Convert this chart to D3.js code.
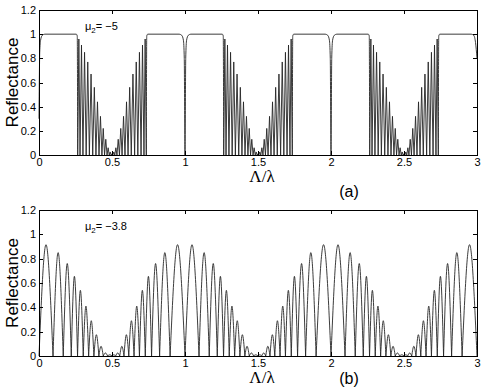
<!DOCTYPE html>
<html>
<head>
<meta charset="utf-8">
<style>
html, body { margin: 0; padding: 0; background: #fff; }
svg { display: block; }
.axis text { font: 11px "Liberation Sans", Arial, sans-serif; fill: #000; }
.axis path, .axis line { fill: none; stroke: #000; shape-rendering: crispEdges; }
.curve { fill: none; stroke: #262626; stroke-width: 0.9px; }
.label { font-family: "Liberation Sans", Arial, sans-serif; fill: #000; }
</style>
</head>
<body>
<svg width="485" height="392"></svg>
<script src="https://d3js.org/d3.v7.min.js"></script>
<script>
var xTicks = [0, 0.5, 1, 1.5, 2, 2.5, 3];
var yTicks = [0, 0.2, 0.4, 0.6, 0.8, 1, 1.2];
var yTickLabels = ["0", "0.2", "0.4", "0.6", "0.8", "1", "1.2"];

// (a) mu2 = -5 : flat bands at R = 1, [x, R] points
var bandsA = [
  [[0, 0.3], [0.005, 0.85], [0.011, 0.95], [0.022, 0.99], [0.04, 1], [0.255, 1], [0.262, 0.985], [0.265, 0]],
  [[0.735, 0], [0.738, 0.985], [0.745, 1], [0.96, 1], [0.978, 0.99], [0.989, 0.95], [0.995, 0.8], [1, 0],
   [1.005, 0.8], [1.011, 0.95], [1.022, 0.99], [1.04, 1], [1.255, 1], [1.262, 0.985], [1.265, 0]],
  [[1.735, 0], [1.738, 0.985], [1.745, 1], [1.96, 1], [1.978, 0.99], [1.989, 0.95], [1.995, 0.8], [2, 0],
   [2.005, 0.8], [2.011, 0.95], [2.022, 0.99], [2.04, 1], [2.255, 1], [2.262, 0.985], [2.265, 0]],
  [[2.735, 0], [2.738, 0.985], [2.745, 1], [2.96, 1], [2.978, 0.99], [2.99, 0.93], [3, 0.8]]
];

// (a) zeros of the fringes inside each gap, and the height of each fringe
var zerosA = [
  [0.265, 0.281, 0.301, 0.323, 0.345, 0.368, 0.390, 0.411, 0.431, 0.449, 0.466, 0.481, 0.494,
   0.506, 0.519, 0.534, 0.551, 0.569, 0.589, 0.610, 0.632, 0.655, 0.677, 0.699, 0.719, 0.735],
  [1.265, 1.281, 1.301, 1.323, 1.345, 1.368, 1.390, 1.411, 1.431, 1.449, 1.466, 1.481, 1.494,
   1.506, 1.519, 1.534, 1.551, 1.569, 1.589, 1.610, 1.632, 1.655, 1.677, 1.699, 1.719, 1.735],
  [2.265, 2.281, 2.301, 2.323, 2.345, 2.368, 2.390, 2.411, 2.431, 2.449, 2.466, 2.481, 2.494,
   2.506, 2.519, 2.534, 2.551, 2.569, 2.589, 2.610, 2.632, 2.655, 2.677, 2.699, 2.719, 2.735]
];
var peaksA = [
  [0.96, 0.91, 0.85, 0.77, 0.67, 0.56, 0.44, 0.32, 0.22, 0.13, 0.06, 0.025, 0.01,
   0.025, 0.06, 0.13, 0.22, 0.32, 0.44, 0.56, 0.67, 0.77, 0.85, 0.91, 0.96],
  [0.96, 0.91, 0.85, 0.77, 0.67, 0.56, 0.44, 0.32, 0.22, 0.13, 0.06, 0.025, 0.01,
   0.025, 0.06, 0.13, 0.22, 0.32, 0.44, 0.56, 0.67, 0.77, 0.85, 0.91, 0.96],
  [0.96, 0.91, 0.85, 0.77, 0.67, 0.56, 0.44, 0.32, 0.22, 0.13, 0.06, 0.025, 0.01,
   0.025, 0.06, 0.13, 0.22, 0.32, 0.44, 0.56, 0.67, 0.77, 0.85, 0.91, 0.96]
];

// (b) mu2 = -3.8 : zeros of the reflectance and fringe heights
var zerosB = [
  0, 0.096, 0.166, 0.221, 0.264, 0.303, 0.34, 0.376, 0.41, 0.44, 0.47,
  0.5, 0.525, 0.553, 0.582, 0.615, 0.651, 0.688, 0.728, 0.771, 0.826, 0.898,
  1, 1.096, 1.166, 1.221, 1.264, 1.303, 1.34, 1.376, 1.41, 1.44, 1.47,
  1.5, 1.525, 1.553, 1.582, 1.615, 1.651, 1.688, 1.728, 1.771, 1.826, 1.898,
  2, 2.096, 2.166, 2.221, 2.264, 2.303, 2.34, 2.376, 2.41, 2.44, 2.47,
  2.5, 2.525, 2.553, 2.582, 2.615, 2.651, 2.688, 2.728, 2.771, 2.826, 2.898, 3
];
var peaksB = [
  0.915, 0.85, 0.76, 0.655, 0.54, 0.41, 0.29, 0.175, 0.08, 0.025, 0.01,
  0.01, 0.025, 0.08, 0.175, 0.29, 0.41, 0.54, 0.655, 0.76, 0.85, 0.915,
  0.915, 0.85, 0.76, 0.655, 0.54, 0.41, 0.29, 0.175, 0.08, 0.025, 0.01,
  0.01, 0.025, 0.08, 0.175, 0.29, 0.41, 0.54, 0.655, 0.76, 0.85, 0.915,
  0.915, 0.85, 0.76, 0.655, 0.54, 0.41, 0.29, 0.175, 0.08, 0.025, 0.01,
  0.01, 0.025, 0.08, 0.175, 0.29, 0.41, 0.54, 0.655, 0.76, 0.85, 0.915
];

var svg = d3.select("svg");
var x = d3.scaleLinear().domain([0, 3]).range([39, 477]);

function drawPanel(top, bottom, bands, zeroGroups, peakGroups, lobeCurve, mu, tag, tagY) {
  var y = d3.scaleLinear().domain([0, 1.2]).range([bottom, top]);
  var g = svg.append("g");

  var lobeLine = d3.line().x(function(d) { return x(d[0]); })
                          .y(function(d) { return y(d[1]); })
                          .curve(lobeCurve);
  var bandLine = d3.line().x(function(d) { return x(d[0]); })
                          .y(function(d) { return y(d[1]); })
                          .curve(d3.curveMonotoneX);

  var dStr = "";
  zeroGroups.forEach(function(z, k) {
    var p = peakGroups[k];
    for (var i = 0; i < p.length; i++) {
      dStr += lobeLine([[z[i], 0], [(z[i] + z[i + 1]) / 2, p[i]], [z[i + 1], 0]]);
    }
  });
  g.append("path").attr("class", "curve").attr("d", dStr);

  g.selectAll(".band").data(bands).enter().append("path")
    .attr("class", "curve band")
    .attr("d", bandLine);

  g.append("g").attr("class", "axis")
    .attr("transform", "translate(0," + bottom + ")")
    .call(d3.axisBottom(x).tickValues(xTicks).tickFormat(d3.format("")).tickSizeInner(-4).tickSizeOuter(0).tickPadding(3));
  g.append("g").attr("class", "axis")
    .attr("transform", "translate(0," + top + ")")
    .call(d3.axisTop(x).tickValues(xTicks).tickFormat("").tickSizeInner(-4).tickSizeOuter(0));
  g.append("g").attr("class", "axis")
    .attr("transform", "translate(" + x(0) + ",0)")
    .call(d3.axisLeft(y).tickValues(yTicks).tickFormat(function(d, i) { return yTickLabels[i]; })
      .tickSizeInner(-4).tickSizeOuter(0).tickPadding(3));
  g.append("g").attr("class", "axis")
    .attr("transform", "translate(" + x(3) + ",0)")
    .call(d3.axisRight(y).tickValues(yTicks).tickFormat("").tickSizeInner(-4).tickSizeOuter(0));

  g.append("text").attr("class", "label")
    .attr("transform", "translate(18," + (top + bottom) / 2 + ") rotate(-90)")
    .attr("text-anchor", "middle")
    .style("font-size", "17px")
    .text("Reflectance");

  g.append("text").attr("class", "label")
    .attr("x", 262).attr("y", bottom + 27)
    .attr("text-anchor", "middle")
    .style("font-family", "'Liberation Serif', 'DejaVu Serif', serif")
    .style("font-size", "17px")
    .text("Λ/λ");

  g.append("text").attr("class", "label")
    .attr("x", 349).attr("y", tagY)
    .attr("text-anchor", "middle")
    .style("font-size", "16px")
    .text(tag);

  var m = g.append("text").attr("class", "label")
    .attr("x", 85).attr("y", top + 20)
    .style("font-size", "11px");
  m.append("tspan").text("μ");
  m.append("tspan").attr("dy", 3).style("font-size", "8px").text("2");
  m.append("tspan").attr("dy", -3).text("= " + mu);
}

drawPanel(10, 155, bandsA, zerosA, peaksA, d3.curveLinear, "−5", "(a)", 197);
drawPanel(210, 356, [], [zerosB], [peaksB], d3.curveNatural, "−3.8", "(b)", 384);
</script>
</body>
</html>
